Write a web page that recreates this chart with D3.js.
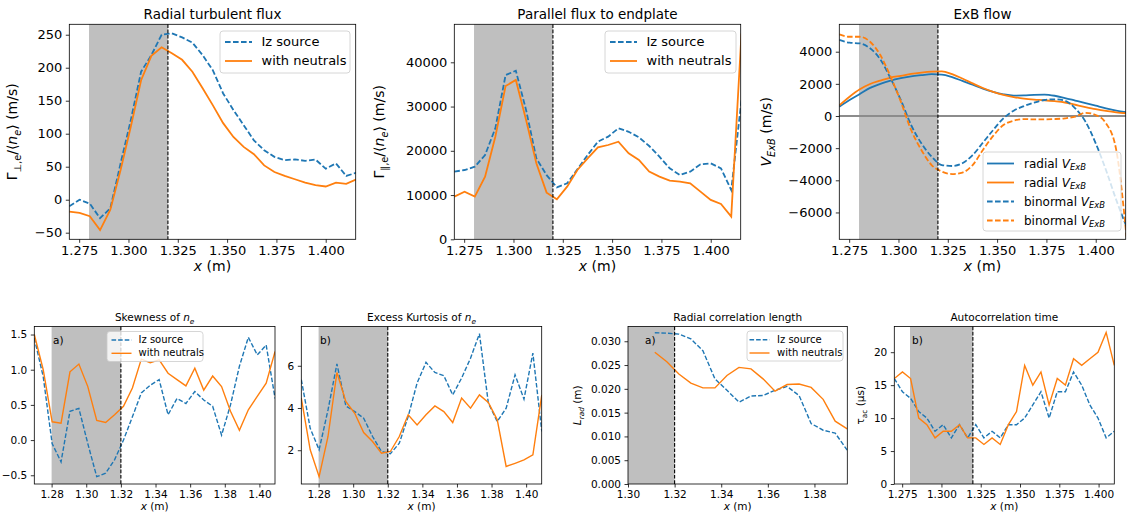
<!DOCTYPE html>
<html>
<head>
<meta charset="utf-8">
<script src="https://cdn.jsdelivr.net/npm/d3@7"></script>
<style>
  body { margin: 0; background: #fff; }
  text { font-family: "DejaVu Sans", sans-serif; }
</style>
</head>
<body>
<script>
// sample positions (m)
const xTop = d3.range(29).map(i => 1.27 + 0.0052 * i);
const xBot = d3.range(28).map(i => 1.27 + 0.00515 * i);
const xLrad = d3.range(17).map(i => 1.3115 + 0.00516 * i);
const xTau = d3.range(28).map(i => 1.27 + 0.005185 * i);

// radial turbulent flux (m/s)
const fluxIz = [-10, 0, -6, -28, -13, 55, 121, 194, 219, 250, 252, 246, 238, 219, 196, 161, 136, 113, 90, 75, 65, 60, 61, 59, 61, 47, 55, 36, 41];
const fluxNeut = [-18, -20, -25, -46, -15, 45, 111, 181, 218, 231, 222, 212, 194, 169, 143, 116, 95, 80, 69, 52, 42, 36, 31, 26, 22, 20, 26, 24, 31];

// parallel flux to endplate (m/s)
const parIz = [15290, 15660, 16400, 19050, 25080, 37100, 38100, 29200, 18300, 14500, 11750, 12650, 15800, 19050, 22060, 23200, 25080, 24300, 23040, 21080, 18670, 16040, 14530, 15290, 16940, 17170, 16040, 11140, 31480];
const parNeut = [9640, 10770, 9640, 14160, 23190, 34640, 36000, 26960, 17170, 10540, 9040, 11900, 15660, 18300, 20780, 21310, 22060, 19430, 17920, 15290, 14160, 13250, 13030, 12650, 10770, 8890, 7980, 5120, 46500];

// ExB flow (m/s)
const radIz = [580, 995, 1370, 1750, 2000, 2200, 2350, 2470, 2540, 2600, 2580, 2420, 2180, 1950, 1700, 1500, 1350, 1270, 1280, 1320, 1330, 1260, 1120, 960, 800, 640, 480, 340, 230];
const radNeut = [660, 1200, 1660, 1990, 2200, 2390, 2500, 2620, 2700, 2760, 2780, 2600, 2330, 2030, 1740, 1500, 1310, 1180, 1080, 1020, 980, 920, 840, 700, 560, 430, 320, 230, 170];
const binIz = [4730, 4560, 4520, 4210, 3520, 2340, 995, -560, -1700, -2530, -3050, -3110, -2940, -2430, -1660, -870, -145, 330, 620, 830, 995, 1040, 950, 480, -350, -1700, -3360, -5220, -6880];
const binNeut = [5080, 4930, 4930, 4620, 3790, 2450, 890, -870, -2110, -3050, -3460, -3610, -3520, -3050, -2110, -1240, -560, -290, -190, -210, -210, -190, -145, -40, 200, 60, -450, -2110, -7500];

// skewness and excess kurtosis of n_e
const skewIz = [1.45, 0.90, -0.05, -0.31, 0.41, 0.45, -0.05, -0.52, -0.47, -0.28, 0.0, 0.33, 0.67, 0.78, 0.86, 0.36, 0.59, 0.52, 0.69, 0.57, 0.48, 0.07, 0.50, 1.05, 1.46, 1.21, 1.35, 0.59];
const skewNeut = [1.5, 1.0, 0.26, 0.24, 0.97, 1.08, 0.76, 0.28, 0.25, 0.36, 0.48, 0.74, 1.15, 1.10, 1.14, 0.95, 0.86, 0.77, 1.02, 0.71, 0.91, 0.76, 0.41, 0.14, 0.43, 0.62, 0.81, 1.26];
const kurtIz = [5.34, 3.04, 2.02, 3.91, 6.09, 4.10, 3.83, 3.52, 2.65, 1.94, 1.83, 2.33, 3.60, 5.18, 6.16, 5.68, 5.53, 4.62, 5.42, 6.36, 7.52, 4.23, 3.36, 3.99, 5.57, 4.42, 6.60, 2.89];
const kurtNeut = [4.47, 2.02, 0.75, 2.65, 5.68, 4.31, 3.75, 2.84, 2.41, 1.86, 1.94, 2.65, 3.68, 3.20, 3.68, 4.10, 3.83, 3.31, 4.47, 3.99, 4.62, 4.26, 3.44, 1.23, 1.38, 1.54, 1.78, 4.62];

// radial correlation length (m) and autocorrelation time (us)
const lradIz = [0.0318, 0.0317, 0.0315, 0.0305, 0.0280, 0.0221, 0.0197, 0.0172, 0.0185, 0.0186, 0.0197, 0.0205, 0.0186, 0.0127, 0.0113, 0.0107, 0.0071];
const lradNeut = [0.0277, 0.0257, 0.0231, 0.0212, 0.0202, 0.0202, 0.0228, 0.0245, 0.0242, 0.0221, 0.0195, 0.0209, 0.0210, 0.0203, 0.0178, 0.0132, 0.0116];
const tauIz = [16, 14, 13, 11, 10, 8, 9, 7, 9, 7, 9, 7, 8, 7, 9, 9, 10, 12, 14, 10, 14, 14, 17, 15, 12, 10, 7, 8];
const tauNeut = [16, 17, 16, 10, 9, 7, 8, 8, 9, 7, 7, 6, 7, 6, 9, 11, 18, 15, 17, 12, 16, 15, 19, 18, 19, 20, 23, 18];

// ticks
const xTicksTop = [1.275, 1.3, 1.325, 1.35, 1.375, 1.4];
const xTicksBot = [1.28, 1.30, 1.32, 1.34, 1.36, 1.38, 1.40];
const xTicksLrad = [1.30, 1.32, 1.34, 1.36, 1.38];
const fluxTicks = [-50, 0, 50, 100, 150, 200, 250];
const parTicks = [0, 10000, 20000, 30000, 40000];
const exbTicks = [-6000, -4000, -2000, 0, 2000, 4000];
const skewTicks = [-0.5, 0.0, 0.5, 1.0, 1.5];
const kurtTicks = [2, 4, 6];
const lradTicks = [0, 0.005, 0.010, 0.015, 0.020, 0.025, 0.030];
const tauTicks = [0, 5, 10, 15, 20];

const blue = "#1f77b4", orange = "#ff7f0e";
const svg = d3.select("body").append("svg").attr("width", 1127).attr("height", 512);

// writes mathtext-like parts: {t, i: italic, s: subscript}
function rich(sel, parts, fs) {
  let shift = 0;
  parts.forEach(p => {
    const want = p.s ? fs * 0.3 : 0;
    const ts = sel.append("tspan").text(p.t).attr("dy", want - shift);
    shift = want;
    if (p.s) ts.attr("font-size", fs * 0.7);
    if (p.i) ts.attr("font-style", "italic");
  });
}

const xLab = [{t: "x", i: true}, {t: " (m)"}];

function drawPanel(p, k) {
  const g = svg.append("g");
  const x = d3.scaleLinear().domain(p.xd).range([p.l, p.r]);
  const y = d3.scaleLinear().domain(p.yd).range([p.b, p.t]);
  const fs = p.fs;

  g.append("clipPath").attr("id", "clip" + k)
    .append("rect").attr("x", p.l).attr("y", p.t).attr("width", p.r - p.l).attr("height", p.b - p.t);

  g.append("rect")
    .attr("x", x(p.shade[0])).attr("y", p.t)
    .attr("width", x(p.shade[1]) - x(p.shade[0])).attr("height", p.b - p.t)
    .attr("fill", "#bfbfbf");

  if (p.zero) {
    g.append("line").attr("x1", p.l).attr("x2", p.r).attr("y1", y(0)).attr("y2", y(0))
      .attr("stroke", "#8c8c8c").attr("stroke-width", 1.8);
  }

  const plot = g.append("g").attr("clip-path", `url(#clip${k})`);
  p.series.forEach(s => {
    const line = d3.line().x((d, i) => x(s.xs[i])).y(d => y(d));
    if (p.smooth) line.curve(d3.curveMonotoneX);
    plot.append("path").datum(s.v)
      .attr("d", line)
      .attr("fill", "none")
      .attr("stroke", s.c)
      .attr("stroke-width", p.lw)
      .attr("stroke-dasharray", s.dash ? p.dash : null);
  });

  g.append("line").attr("x1", x(1.32)).attr("x2", x(1.32)).attr("y1", p.t).attr("y2", p.b)
    .attr("stroke", "#000").attr("stroke-width", 1.1).attr("stroke-dasharray", "3.7,1.6");

  // axes
  const ax = g.append("g").attr("transform", `translate(0,${p.b})`)
    .call(d3.axisBottom(x).tickValues(p.xt).tickFormat(d3.format(p.xf)).tickSize(3.5).tickPadding(3));
  const ay = g.append("g").attr("transform", `translate(${p.l},0)`)
    .call(d3.axisLeft(y).tickValues(p.yt).tickFormat(d3.format(p.yf)).tickSize(3.5).tickPadding(3.5));
  [ax, ay].forEach(a => {
    a.select(".domain").remove();
    a.selectAll("line").attr("stroke", "#000").attr("stroke-width", 0.8);
    a.selectAll("text").attr("font-size", fs).attr("fill", "#000").attr("font-family", "DejaVu Sans");
  });

  g.append("rect").attr("x", p.l).attr("y", p.t).attr("width", p.r - p.l).attr("height", p.b - p.t)
    .attr("fill", "none").attr("stroke", "#000").attr("stroke-width", 0.8);

  // title
  rich(g.append("text").attr("x", (p.l + p.r) / 2).attr("y", p.t - 5.5)
    .attr("text-anchor", "middle").attr("font-size", p.tfs), p.title, p.tfs);

  // x label
  rich(g.append("text").attr("x", (p.l + p.r) / 2).attr("y", p.b + p.xly)
    .attr("text-anchor", "middle").attr("font-size", p.lfs), xLab, p.lfs);

  // y label
  if (p.ylab) {
    rich(g.append("text")
      .attr("transform", `translate(${p.ylx},${(p.t + p.b) / 2}) rotate(-90)`)
      .attr("text-anchor", "middle").attr("font-size", p.lfs), p.ylab, p.lfs);
  }

  if (p.tag) {
    g.append("text").attr("x", p.tag[1]).attr("y", p.tag[2]).attr("font-size", fs)
      .text(p.tag[0]);
  }

  if (p.legend) {
    const L = p.legend;
    g.append("rect").attr("x", L.x).attr("y", L.y).attr("width", L.w).attr("height", L.h)
      .attr("rx", 3).attr("fill", "#fff").attr("fill-opacity", 0.8)
      .attr("stroke", "#cccccc").attr("stroke-width", 0.8);
    L.items.forEach((it, i) => {
      const yy = L.rows[i];
      g.append("line").attr("x1", L.lx0).attr("x2", L.lx1).attr("y1", yy).attr("y2", yy)
        .attr("stroke", it.c).attr("stroke-width", p.lw)
        .attr("stroke-dasharray", it.dash ? p.dash : null);
      rich(g.append("text").attr("x", L.tx).attr("y", yy).attr("dominant-baseline", "middle")
        .attr("font-size", L.fs), it.label, L.fs);
    });
  }
}

const lgTwo = [
  {c: blue, dash: true, label: [{t: "Iz source"}]},
  {c: orange, dash: false, label: [{t: "with neutrals"}]}
];
const vexb = [{t: "V", i: true}, {t: "ExB", i: true, s: true}];

const topBase = {t: 24.3, b: 239.3, xd: [1.27, 1.4152], xt: xTicksTop, xf: ".3f",
  fs: 13, tfs: 13.5, lfs: 14, xly: 32, lw: 1.8, dash: "5.6,2.4", shade: [1.28, 1.32]};
const botBase = {t: 326.5, b: 484, fs: 10.5, tfs: 10.5, lfs: 10.5, xly: 26, lw: 1.4,
  dash: "4.6,2", shade: [1.28, 1.32]};

const panels = [
  Object.assign({}, topBase, {
    l: 69.3, r: 355.7, yd: [-60, 265.8], yt: fluxTicks, yf: "d",
    title: [{t: "Radial turbulent flux"}],
    ylx: 17,
    ylab: [{t: "Γ"}, {t: "⊥,e", s: true}, {t: "/⟨"}, {t: "n", i: true}, {t: "e", i: true, s: true}, {t: "⟩ (m/s)"}],
    series: [{xs: xTop, v: fluxIz, c: blue, dash: true}, {xs: xTop, v: fluxNeut, c: orange}],
    legend: {x: 220, y: 31, w: 130, h: 42, rows: [42, 61], lx0: 225, lx1: 252, tx: 261.5, fs: 13, items: lgTwo}
  }),
  Object.assign({}, topBase, {
    l: 454.3, r: 740.7, yd: [0, 48588], yt: parTicks, yf: "d",
    title: [{t: "Parallel flux to endplate"}],
    ylx: 384,
    ylab: [{t: "Γ"}, {t: "∥,e", s: true}, {t: "/⟨"}, {t: "n", i: true}, {t: "e", i: true, s: true}, {t: "⟩ (m/s)"}],
    series: [{xs: xTop, v: parIz, c: blue, dash: true}, {xs: xTop, v: parNeut, c: orange}],
    legend: {x: 605, y: 31, w: 131, h: 42, rows: [42, 61], lx0: 610, lx1: 637, tx: 646.5, fs: 13, items: lgTwo}
  }),
  Object.assign({}, topBase, {
    l: 839.3, r: 1125.7, yd: [-7670, 5705], yt: exbTicks, yf: "d", smooth: true, zero: true,
    title: [{t: "ExB flow"}],
    ylx: 771,
    ylab: vexb.concat([{t: " (m/s)"}]),
    series: [
      {xs: xTop, v: radIz, c: blue}, {xs: xTop, v: radNeut, c: orange},
      {xs: xTop, v: binIz, c: blue, dash: true}, {xs: xTop, v: binNeut, c: orange, dash: true}
    ],
    legend: {x: 983, y: 152, w: 138, h: 79, rows: [163.5, 182.5, 201.5, 220.5], lx0: 987, lx1: 1014, tx: 1024, fs: 12,
      items: [
        {c: blue, label: [{t: "radial "}].concat(vexb)},
        {c: orange, label: [{t: "radial "}].concat(vexb)},
        {c: blue, dash: true, label: [{t: "binormal "}].concat(vexb)},
        {c: orange, dash: true, label: [{t: "binormal  "}].concat(vexb)}
      ]}
  }),
  Object.assign({}, botBase, {
    l: 34.3, r: 275, xd: [1.27, 1.409], xt: xTicksBot, xf: ".2f",
    yd: [-0.624, 1.614], yt: skewTicks, yf: ".1f",
    title: [{t: "Skewness of "}, {t: "n", i: true}, {t: "e", i: true, s: true}],
    tag: ["a)", 53, 344],
    series: [{xs: xBot, v: skewIz, c: blue, dash: true}, {xs: xBot, v: skewNeut, c: orange}],
    legend: {x: 107, y: 331.5, w: 96, h: 30, rows: [340, 353.3], lx0: 111.5, lx1: 131.5, tx: 138.5, fs: 10, items: lgTwo}
  }),
  Object.assign({}, botBase, {
    l: 301.3, r: 541.7, xd: [1.27, 1.409], xt: xTicksBot, xf: ".2f",
    yd: [0.40, 7.86], yt: kurtTicks, yf: "d",
    title: [{t: "Excess Kurtosis of "}, {t: "n", i: true}, {t: "e", i: true, s: true}],
    tag: ["b)", 320, 344],
    series: [{xs: xBot, v: kurtIz, c: blue, dash: true}, {xs: xBot, v: kurtNeut, c: orange}]
  }),
  Object.assign({}, botBase, {
    l: 628, r: 847.3, xd: [1.30, 1.3941], xt: xTicksLrad, xf: ".2f",
    yd: [0, 0.0331], yt: lradTicks, yf: ".3f", shade: [1.30, 1.32],
    title: [{t: "Radial correlation length"}],
    ylx: 581,
    ylab: [{t: "L", i: true}, {t: "rad", i: true, s: true}, {t: " (m)"}],
    tag: ["a)", 645, 344],
    series: [{xs: xLrad, v: lradIz, c: blue, dash: true}, {xs: xLrad, v: lradNeut, c: orange}],
    legend: {x: 747, y: 331, w: 96, h: 30, rows: [339.7, 353], lx0: 749.5, lx1: 769.5, tx: 777, fs: 10, items: lgTwo}
  }),
  Object.assign({}, botBase, {
    l: 894.3, r: 1114.3, xd: [1.27, 1.41], xt: xTicksTop, xf: ".3f",
    yd: [0, 23.9], yt: tauTicks, yf: "d",
    title: [{t: "Autocorrelation time"}],
    ylx: 864,
    ylab: [{t: "τ"}, {t: "ac", s: true}, {t: " (μs)"}],
    tag: ["b)", 912, 344],
    series: [{xs: xTau, v: tauIz, c: blue, dash: true}, {xs: xTau, v: tauNeut, c: orange}]
  })
];

panels.forEach(drawPanel);
</script>
</body>
</html>
